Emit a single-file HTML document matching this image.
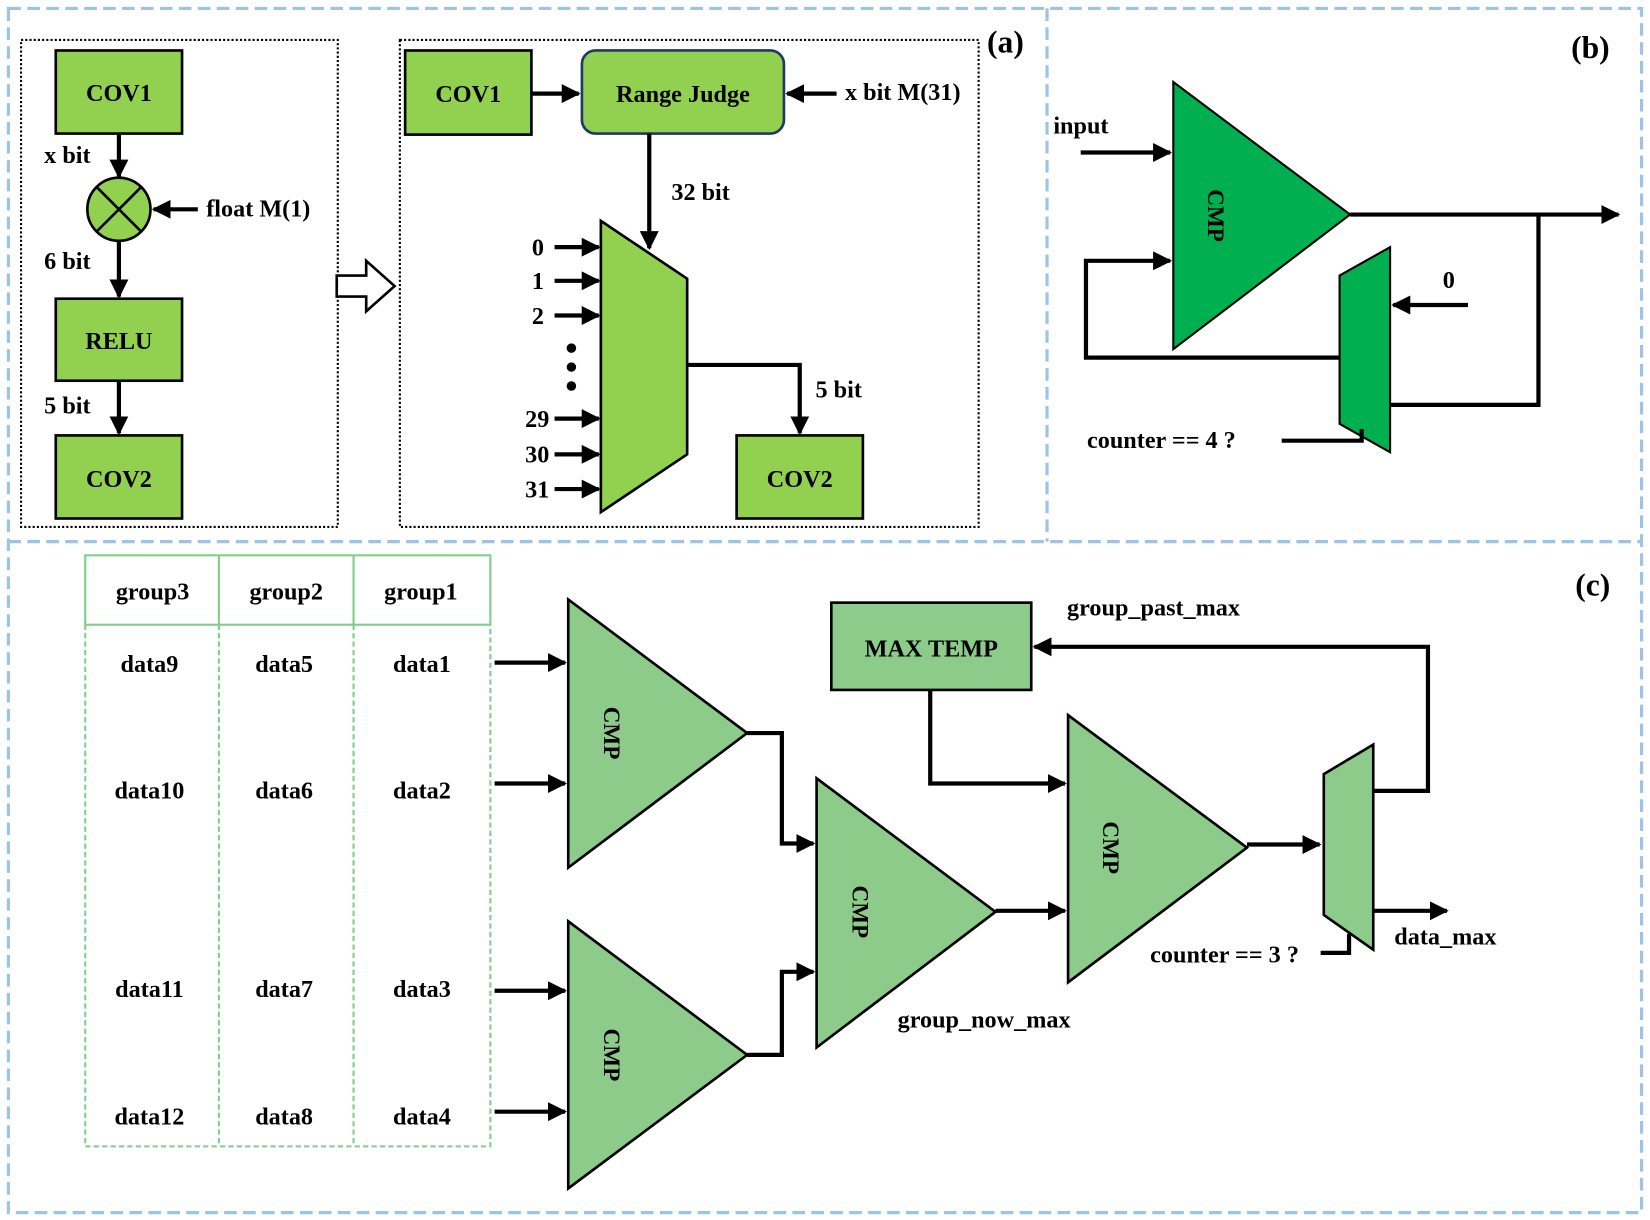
<!DOCTYPE html>
<html><head><meta charset="utf-8"><style>html,body{margin:0;padding:0;background:#fff}svg{display:block}</style></head>
<body>
<svg width="1650" height="1220" viewBox="0 0 1568 1160" preserveAspectRatio="none" xmlns="http://www.w3.org/2000/svg" style="font-family:'Liberation Serif','Times New Roman',serif" font-weight="bold" font-size="23">
<defs>
<marker id="ar" viewBox="0 0 10 10" refX="9" refY="5" markerWidth="4.5" markerHeight="4.5" markerUnits="strokeWidth" orient="auto"><path d="M0,0 L10,5 L0,10 z" fill="#000"/></marker>
</defs>
<g fill="none" stroke="#9dc3e6" stroke-width="3" stroke-dasharray="12,6">
<rect x="8" y="8" width="1552" height="1145"/>
<line x1="995" y1="8" x2="995" y2="515"/>
<line x1="8" y1="515" x2="1560" y2="515"/>
</g>
<g fill="none" stroke="#000" stroke-width="2" stroke-dasharray="2,2">
<rect x="20" y="38" width="301" height="463"/>
<rect x="380" y="38" width="550" height="463"/>
</g>
<!-- panel a -->
<g stroke="#000" stroke-width="2.5" fill="#92d050">
<rect x="53" y="48" width="120" height="79"/>
<rect x="53" y="284" width="120" height="78"/>
<rect x="53" y="414" width="120" height="79"/>
<circle cx="113" cy="199" r="30"/>
<rect x="385" y="48" width="120" height="80"/>
<rect x="553" y="48" width="192" height="79" rx="13" stroke="#1f3864"/>
<rect x="700" y="414" width="120" height="79"/>
<polygon points="571,210 653,265 653,432 571,487"/>
</g>
<g stroke="#000" stroke-width="2.5"><line x1="92" y1="178" x2="134" y2="220"/><line x1="134" y1="178" x2="92" y2="220"/></g>
<g stroke="#000" stroke-width="4" fill="none" marker-end="url(#ar)">
<line x1="113" y1="127" x2="113" y2="168"/>
<line x1="188" y1="199" x2="146" y2="199"/>
<line x1="113" y1="229" x2="113" y2="282"/>
<line x1="113" y1="362" x2="113" y2="412"/>
<line x1="505" y1="89" x2="550" y2="89"/>
<line x1="795" y1="89" x2="748" y2="89"/>
<line x1="617" y1="127" x2="617" y2="236"/>
<line x1="527" y1="235" x2="569" y2="235"/>
<line x1="527" y1="267" x2="569" y2="267"/>
<line x1="527" y1="300" x2="569" y2="300"/>
<line x1="527" y1="398" x2="569" y2="398"/>
<line x1="527" y1="432" x2="569" y2="432"/>
<line x1="527" y1="465" x2="569" y2="465"/>
<polyline points="653,347 760,347 760,412"/>
</g>
<polygon points="320,262 348,262 348,248 375,272 348,296 348,282 320,282" fill="#fff" stroke="#000" stroke-width="2.5"/>
<g fill="#000"><circle cx="543" cy="331" r="4.5"/><circle cx="543" cy="349" r="4.5"/><circle cx="543" cy="367" r="4.5"/></g>
<g text-anchor="middle">
<text x="113" y="96">COV1</text><text x="113" y="332">RELU</text><text x="113" y="463">COV2</text>
<text x="445" y="97">COV1</text><text x="649" y="97">Range Judge</text><text x="760" y="463">COV2</text>
</g>
<text x="42" y="155">x bit</text><text x="196" y="206">float M(1)</text>
<text x="42" y="256">6 bit</text><text x="42" y="393">5 bit</text>
<text x="803" y="95">x bit M(31)</text><text x="638" y="190">32 bit</text><text x="775" y="378">5 bit</text>
<g text-anchor="end"><text x="517" y="243">0</text><text x="517" y="275">1</text><text x="517" y="308">2</text><text x="522" y="406">29</text><text x="522" y="440">30</text><text x="522" y="473">31</text></g>
<text x="938" y="50" font-size="30">(a)</text>
<!-- panel b -->
<text x="1493" y="55" font-size="30">(b)</text>
<g fill="#00b050" stroke="#000" stroke-width="2">
<polygon points="1115,78 1115,332 1283,204"/>
<polygon points="1273,262 1321,235 1321,430 1273,403"/>
</g>
<text transform="translate(1148,205) rotate(90)" text-anchor="middle" font-size="22">CMP</text>
<text x="1001" y="127">input</text><text x="1371" y="274">0</text><text x="1033" y="426">counter == 4 ?</text>
<g stroke="#000" stroke-width="4" fill="none">
<line x1="1027" y1="145" x2="1112" y2="145" marker-end="url(#ar)"/>
<line x1="1283" y1="204" x2="1538" y2="204" marker-end="url(#ar)"/>
<polyline points="1462,204 1462,385 1321,385"/>
<line x1="1395" y1="290" x2="1324" y2="290" marker-end="url(#ar)"/>
<polyline points="1273,340 1032,340 1032,248 1112,248" marker-end="url(#ar)"/>
<polyline points="1218,419 1294,419 1294,408"/>
</g>
<!-- panel c -->
<text x="1497" y="566" font-size="30">(c)</text>
<rect x="81" y="528" width="385" height="66" fill="none" stroke="#7fcf8a" stroke-width="2"/>
<g stroke="#7fcf8a" stroke-width="2"><line x1="208" y1="528" x2="208" y2="594"/><line x1="336" y1="528" x2="336" y2="594"/></g>
<g fill="none" stroke="#7fcf8a" stroke-width="2" stroke-dasharray="5,3">
<polyline points="81,594 81,1090 466,1090 466,594"/>
<line x1="208" y1="594" x2="208" y2="1090"/><line x1="336" y1="594" x2="336" y2="1090"/>
</g>
<g text-anchor="middle">
<text x="145" y="570">group3</text><text x="272" y="570">group2</text><text x="400" y="570">group1</text>
<text x="142" y="639">data9</text><text x="270" y="639">data5</text><text x="401" y="639">data1</text>
<text x="142" y="759">data10</text><text x="270" y="759">data6</text><text x="401" y="759">data2</text>
<text x="142" y="948">data11</text><text x="270" y="948">data7</text><text x="401" y="948">data3</text>
<text x="142" y="1069">data12</text><text x="270" y="1069">data8</text><text x="401" y="1069">data4</text>
</g>
<g fill="#8ccb8a" stroke="#000" stroke-width="2.5">
<polygon points="540,570 540,825 710,697"/>
<polygon points="540,876 540,1130 710,1003"/>
<polygon points="776,740 776,996 946,867"/>
<polygon points="1015,680 1015,934 1185,806"/>
<polygon points="1258,736 1305,708 1305,903 1258,870"/>
<rect x="790" y="573" width="190" height="83"/>
</g>
<g font-size="22" text-anchor="middle">
<text transform="translate(574,697) rotate(90)">CMP</text>
<text transform="translate(574,1003) rotate(90)">CMP</text>
<text transform="translate(810,867) rotate(90)">CMP</text>
<text transform="translate(1048,806) rotate(90)">CMP</text>
</g>
<text x="885" y="624" text-anchor="middle">MAX TEMP</text>
<text x="1014" y="585">group_past_max</text><text x="853" y="977">group_now_max</text>
<text x="1093" y="915">counter == 3 ?</text><text x="1325" y="898">data_max</text>
<g stroke="#000" stroke-width="4" fill="none">
<line x1="470" y1="630" x2="537" y2="630" marker-end="url(#ar)"/>
<line x1="470" y1="745" x2="537" y2="745" marker-end="url(#ar)"/>
<line x1="470" y1="942" x2="537" y2="942" marker-end="url(#ar)"/>
<line x1="470" y1="1057" x2="537" y2="1057" marker-end="url(#ar)"/>
<polyline points="710,697 743,697 743,802 773,802" marker-end="url(#ar)"/>
<polyline points="710,1003 743,1003 743,924 773,924" marker-end="url(#ar)"/>
<line x1="946" y1="866" x2="1012" y2="866" marker-end="url(#ar)"/>
<polyline points="884,656 884,745 1012,745" marker-end="url(#ar)"/>
<line x1="1185" y1="803" x2="1254" y2="803" marker-end="url(#ar)"/>
<polyline points="1305,752 1357,752 1357,615 983,615" marker-end="url(#ar)"/>
<line x1="1305" y1="866" x2="1375" y2="866" marker-end="url(#ar)"/>
<polyline points="1255,906 1282,906 1282,888"/>
</g>
</svg>
</body></html>
